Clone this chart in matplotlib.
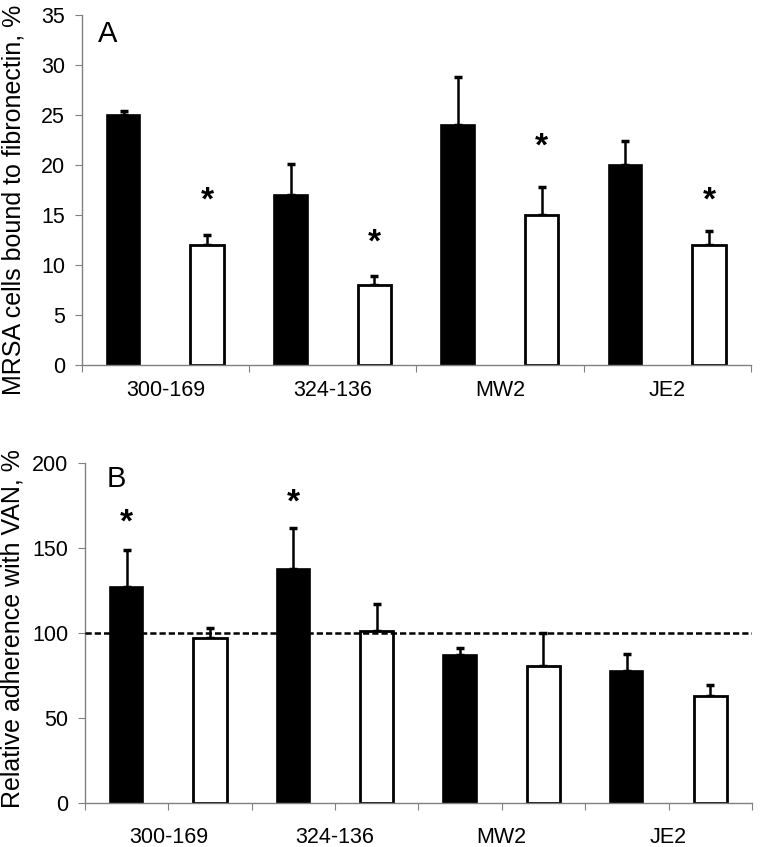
import matplotlib
matplotlib.use("Agg")
import matplotlib.pyplot as plt
import numpy as np

plt.rcParams['font.family'] = ['Liberation Sans', 'DejaVu Sans']

strains = ["300-169", "324-136", "MW2", "JE2"]

# Panel A: % MRSA cells bound to fibronectin
a_black = [25.0, 17.0, 24.0, 20.0]
a_black_err = [0.35, 3.1, 4.8, 2.4]
a_white = [12.0, 8.0, 15.0, 12.0]
a_white_err = [1.0, 0.85, 2.8, 1.4]
a_star_white = [16.4, 12.2, 21.8, 16.4]

# Panel B: relative adherence with VAN, %
b_black = [127.0, 138.0, 87.0, 78.0]
b_black_err = [22.0, 24.0, 4.3, 10.0]
b_white = [97.5, 101.5, 81.0, 63.0]
b_white_err = [5.5, 15.7, 19.4, 6.3]
b_star_black = [165.0, 176.5, None, None]
b_ref = 100

fig = plt.figure(figsize=(7.63, 8.47), dpi=100)
axA = fig.add_axes([0.1071, 0.5691, 0.877, 0.4132])
axB = fig.add_axes([0.1114, 0.0516, 0.874, 0.4014])

n = len(strains)
x = np.arange(n)
xb = x + 0.25
xw = x + 0.75
bw = 0.2


def style(ax, ymax, ystep, label, xtick_step, label_pad):
    ax.xaxis.remove_overlapping_locs = False
    ax.set_xlim(0, n)
    ax.set_ylim(0, ymax)
    for s in ['top', 'right']:
        ax.spines[s].set_visible(False)
    for s in ['left', 'bottom']:
        ax.spines[s].set_color('#808080')
        ax.spines[s].set_linewidth(1.0)
    ax.set_yticks(np.arange(0, ymax + 0.1, ystep))
    ax.set_xticks(np.arange(0, n + 0.01, xtick_step))
    ax.set_xticklabels([])
    ax.set_xticks(x + 0.5, minor=True)
    ax.set_xticklabels(strains, minor=True, fontsize=15.5)
    ax.tick_params(axis='x', which='minor', length=0, pad=label_pad)
    ax.tick_params(axis='x', which='major', length=5, color='#808080', direction='out')
    ax.tick_params(axis='y', length=5, color='#808080', direction='out', labelsize=15.5, pad=7)
    ax.set_ylabel(label, fontsize=18)


def bars(ax, black, berr, white, werr):
    ax.bar(xb, black, width=bw, color='black', edgecolor='black', linewidth=1.2, zorder=2)
    ax.bar(xw, white, width=bw, color='white', edgecolor='black', linewidth=2.0, zorder=2)
    ax.errorbar(xb, black, yerr=[np.zeros(n), berr], fmt='none', ecolor='black',
                elinewidth=1.8, capsize=3, capthick=2.5, zorder=1)
    ax.errorbar(xw, white, yerr=[np.zeros(n), werr], fmt='none', ecolor='black',
                elinewidth=1.8, capsize=3, capthick=2.5, zorder=1)


# Panel A
style(axA, 35, 5, "MRSA cells bound to fibronectin, %", 1, 10.5)
bars(axA, a_black, a_black_err, a_white, a_white_err)
for xi, yi in zip(xw, a_star_white):
    axA.text(xi, yi, "*", ha='center', va='center', fontsize=24, fontweight='bold')
axA.text(0.024, 0.985, "A", transform=axA.transAxes, ha='left', va='top', fontsize=21)
axA.yaxis.set_label_coords(-0.084, 0.471)

# Panel B
style(axB, 200, 50, "Relative adherence with VAN, %", 0.5, 17)
axB.axhline(b_ref, color='black', linestyle=(0, (2.5, 1.2)), linewidth=1.8, zorder=3)
bars(axB, b_black, b_black_err, b_white, b_white_err)
for xi, yi in zip(xb, b_star_black):
    if yi is not None:
        axB.text(xi, yi, "*", ha='center', va='center', fontsize=24, fontweight='bold')
axB.text(0.0325, 0.995, "B", transform=axB.transAxes, ha='left', va='top', fontsize=21)
axB.yaxis.set_label_coords(-0.09, 0.513)

fig.savefig("out.png", dpi=100)
